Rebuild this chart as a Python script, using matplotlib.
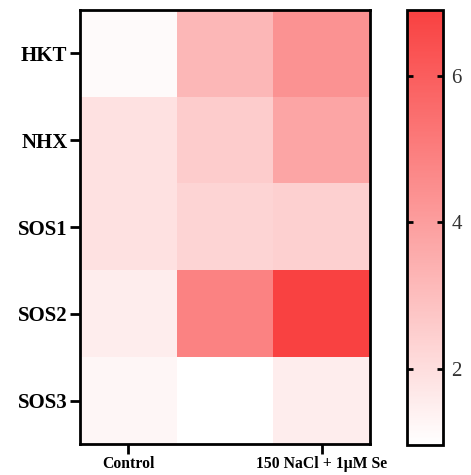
import matplotlib
matplotlib.use("Agg")
import matplotlib.pyplot as plt
import numpy as np
from matplotlib.colors import LinearSegmentedColormap

genes = ["HKT", "NHX", "SOS1", "SOS2", "SOS3"]
x_labels = ["Control", "", "150 NaCl + 1μM Se"]
values = np.array([
    [1.1, 3.2, 4.35],
    [1.9, 2.55, 3.76],
    [1.9, 2.3, 2.4],
    [1.5, 4.85, 6.9],
    [1.25, 0.96, 1.5],
])
cbar_ticks = [2, 4, 6]

cmap = LinearSegmentedColormap.from_list("wr", ["#ffffff", "#f94141"])

fig = plt.figure(figsize=(4.71, 4.75), dpi=100)
ax = fig.add_axes([80/471, 31/475, 290/471, 434/475])
cax = fig.add_axes([407/471, 30/475, 36/471, 435/475])

im = ax.imshow(values, cmap=cmap, aspect="auto", vmin=0.96, vmax=6.9,
               interpolation="nearest")

ax.set_yticks(range(len(genes)))
ax.set_yticklabels(genes, fontfamily="Liberation Serif", fontweight="bold", fontsize=15)
ax.set_xticks([0, 2])
ax.set_xticklabels([x_labels[0], x_labels[2]], fontfamily="Liberation Serif",
                   fontweight="bold", fontsize=11.3)
ax.tick_params(axis="y", length=7, width=2, pad=2)
ax.tick_params(axis="x", length=7, width=2, pad=2)
for s in ax.spines.values():
    s.set_linewidth(2)

cb = fig.colorbar(im, cax=cax)
cb.set_ticks(cbar_ticks)
cb.outline.set_linewidth(2)
cax.tick_params(direction="in", left=True, right=True, labelleft=False,
                labelright=True, length=4, width=2, labelsize=15, pad=6,
                labelcolor="#333333")
for lab in cax.get_yticklabels():
    lab.set_fontfamily("Liberation Serif")

fig.savefig("out.png", dpi=100)
